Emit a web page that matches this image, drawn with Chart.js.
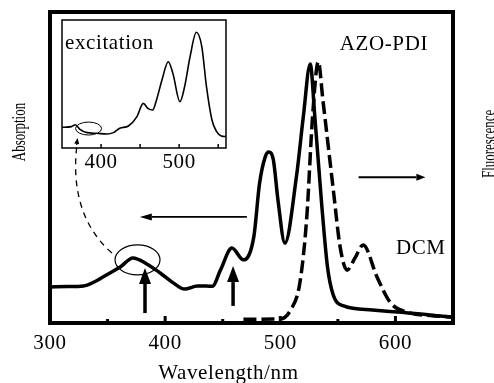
<!DOCTYPE html>
<html lang="en">
<head>
<meta charset="UTF-8">
<title>AZO-PDI absorption and fluorescence</title>
<script src="https://cdn.jsdelivr.net/npm/chart.js"></script>
<style>
  html, body { margin: 0; padding: 0; background: #fff; }
  .wrap { position: relative; width: 494px; height: 383px; }
  .wrap canvas { position: absolute; left: 0; top: 0; }
</style>
</head>
<body>
<div class="wrap">
  <canvas id="mainChart" width="494" height="383"></canvas>
  <canvas id="insetChart" width="494" height="383"></canvas>
</div>
<script>
// absorption in DCM (solid), normalised to frame height
const absWl  = [300, 315, 329, 340, 346, 361, 372, 384, 396, 407, 417, 428, 436, 441, 448, 458, 468, 477, 482, 487, 490, 494, 498, 504, 514, 520, 526, 530, 536, 541, 546, 555, 580, 602, 630, 650];
const absVal = [0.116, 0.117, 0.119, 0.135, 0.148, 0.18, 0.209, 0.19, 0.16, 0.129, 0.109, 0.119, 0.119, 0.118, 0.17, 0.241, 0.203, 0.277, 0.449, 0.535, 0.55, 0.524, 0.395, 0.257, 0.47, 0.663, 0.833, 0.663, 0.38, 0.18, 0.09, 0.055, 0.042, 0.035, 0.026, 0.018];

// fluorescence (dashed)
const flWl  = [468, 500, 509, 517, 523, 528, 533, 537, 546, 552, 558, 565, 572, 584, 596, 613, 630, 650];
const flVal = [0.012, 0.013, 0.042, 0.129, 0.34, 0.662, 0.84, 0.717, 0.43, 0.244, 0.17, 0.21, 0.251, 0.148, 0.064, 0.032, 0.024, 0.019];

// inset: excitation spectrum
const excWl  = [350, 362, 367, 373, 382, 394, 407, 416, 424, 435, 446, 454, 460, 466, 471, 478, 486, 492, 501, 507, 514, 522, 529, 535, 542, 548, 554, 560];
const excVal = [0.162, 0.167, 0.182, 0.146, 0.12, 0.115, 0.109, 0.12, 0.154, 0.172, 0.245, 0.349, 0.31, 0.297, 0.375, 0.531, 0.674, 0.583, 0.362, 0.479, 0.714, 0.904, 0.792, 0.479, 0.219, 0.128, 0.094, 0.089];

const mainTicks = [350, 400, 450, 500, 550, 600];
const mainTickLabels = [300, 400, 500, 600];
const insetTicks = [400, 450, 500, 550];
const insetTickLabels = [400, 500];

const FONT = '"Liberation Serif", "DejaVu Serif", serif';

function pts(xs, ys) {
  return xs.map((v, i) => ({x: v, y: ys[i]}));
}

function setFont(ctx) {
  ctx.font = '21px ' + FONT;
  ctx.letterSpacing = '0.6px';
}

// vertical title, read bottom to top; the source figure squeezes these along their length
function sideTitle(ctx, text, bx, cy) {
  ctx.save();
  ctx.font = '18px ' + FONT;
  ctx.letterSpacing = '0px';
  ctx.textAlign = 'center';
  ctx.textBaseline = 'alphabetic';
  ctx.translate(bx, cy);
  ctx.rotate(-Math.PI / 2);
  ctx.scale(0.72, 1);
  ctx.fillText(text, 0, 0);
  ctx.restore();
}

function arrow(ctx, x1, y1, x2, y2, lw, headLen, headHalf) {
  const ang = Math.atan2(y2 - y1, x2 - x1);
  const bx = x2 - Math.cos(ang) * headLen;
  const by = y2 - Math.sin(ang) * headLen;
  ctx.lineWidth = lw;
  ctx.beginPath();
  ctx.moveTo(x1, y1);
  ctx.lineTo(bx, by);
  ctx.stroke();
  ctx.beginPath();
  ctx.moveTo(x2, y2);
  ctx.lineTo(bx - Math.sin(ang) * headHalf, by + Math.cos(ang) * headHalf);
  ctx.lineTo(bx + Math.sin(ang) * headHalf, by - Math.cos(ang) * headHalf);
  ctx.closePath();
  ctx.fill();
}

const mainDecor = {
  id: 'mainDecor',
  afterDatasetsDraw(chart) {
    const {ctx, chartArea: a, scales: {x, y}} = chart;
    ctx.save();
    ctx.strokeStyle = '#000';
    ctx.fillStyle = '#000';

    // frame + inward ticks
    ctx.lineWidth = 4;
    ctx.strokeRect(a.left, a.top, a.right - a.left, a.bottom - a.top);
    ctx.lineWidth = 3;
    mainTicks.forEach(v => {
      const px = x.getPixelForValue(v);
      const len = v % 100 === 0 ? 7 : 4;
      ctx.beginPath();
      ctx.moveTo(px, a.bottom);
      ctx.lineTo(px, a.bottom - len);
      ctx.stroke();
    });

    // tick labels and titles
    setFont(ctx);
    ctx.textAlign = 'center';
    ctx.textBaseline = 'middle';
    mainTickLabels.forEach(v => ctx.fillText(String(v), x.getPixelForValue(v), a.bottom + 20));
    ctx.fillText('Wavelength/nm', x.getPixelForValue(455), a.bottom + 50);

    sideTitle(ctx, 'Absorption', 25, y.getPixelForValue(0.614));
    sideTitle(ctx, 'Fluorescence', 495, y.getPixelForValue(0.576));

    ctx.fillText('AZO-PDI', x.getPixelForValue(590), y.getPixelForValue(0.894));
    ctx.fillText('DCM', x.getPixelForValue(622), y.getPixelForValue(0.241));

    // ellipse around the 375 nm band
    ctx.lineWidth = 1.2;
    ctx.beginPath();
    ctx.ellipse(x.getPixelForValue(376), y.getPixelForValue(0.203), 22.5, 15, 0, 0, Math.PI * 2);
    ctx.stroke();

    // vertical excitation arrows
    arrow(ctx, x.getPixelForValue(382.5), y.getPixelForValue(0.032), x.getPixelForValue(382.5), y.getPixelForValue(0.177), 3.5, 16, 6);
    arrow(ctx, x.getPixelForValue(459), y.getPixelForValue(0.055), x.getPixelForValue(459), y.getPixelForValue(0.183), 3.5, 16, 6);

    // horizontal arrows
    arrow(ctx, x.getPixelForValue(471), y.getPixelForValue(0.341), x.getPixelForValue(378), y.getPixelForValue(0.341), 1.8, 12, 3.5);
    arrow(ctx, x.getPixelForValue(568), y.getPixelForValue(0.469), x.getPixelForValue(626), y.getPixelForValue(0.469), 2, 9, 3.5);

    // dashed connector to the inset
    const p0 = [x.getPixelForValue(353.8), y.getPixelForValue(0.225)];
    const c1 = [x.getPixelForValue(326), y.getPixelForValue(0.315)];
    const c2 = [x.getPixelForValue(319), y.getPixelForValue(0.444)];
    const p3 = [x.getPixelForValue(323.5), y.getPixelForValue(0.595)];
    ctx.lineWidth = 1.3;
    ctx.setLineDash([6, 5]);
    ctx.beginPath();
    ctx.moveTo(p0[0], p0[1]);
    ctx.bezierCurveTo(c1[0], c1[1], c2[0], c2[1], p3[0], p3[1] + 6);
    ctx.stroke();
    ctx.setLineDash([]);
    arrow(ctx, p3[0] - 0.5, p3[1] + 7, p3[0] + 0.5, p3[1], 1.3, 6, 2.5);

    ctx.restore();
  }
};

const insetDecor = {
  id: 'insetDecor',
  afterDatasetsDraw(chart) {
    const {ctx, chartArea: a, scales: {x, y}} = chart;
    ctx.save();
    ctx.strokeStyle = '#000';
    ctx.fillStyle = '#000';
    ctx.lineWidth = 1.5;
    ctx.strokeRect(a.left, a.top, a.right - a.left, a.bottom - a.top);
    insetTicks.forEach(v => {
      const px = x.getPixelForValue(v);
      ctx.beginPath();
      ctx.moveTo(px, a.bottom);
      ctx.lineTo(px, a.bottom - 4);
      ctx.stroke();
    });
    setFont(ctx);
    ctx.textAlign = 'center';
    ctx.textBaseline = 'middle';
    insetTickLabels.forEach(v => ctx.fillText(String(v), x.getPixelForValue(v), a.bottom + 14));
    ctx.textAlign = 'left';
    ctx.fillText('excitation', a.left + 3, y.getPixelForValue(0.82));

    ctx.lineWidth = 1;
    ctx.beginPath();
    ctx.ellipse(x.getPixelForValue(384), y.getPixelForValue(0.152), 13, 6.5, 0, 0, Math.PI * 2);
    ctx.stroke();
    ctx.restore();
  }
};

const lineDefaults = {
  borderColor: '#000',
  pointRadius: 0,
  fill: false,
  cubicInterpolationMode: 'monotone'
};

new Chart(document.getElementById('mainChart'), {
  type: 'line',
  data: {
    datasets: [
      Object.assign({label: 'Absorption', data: pts(absWl, absVal), borderWidth: 3.5}, lineDefaults),
      Object.assign({label: 'Fluorescence', data: pts(flWl, flVal), borderWidth: 3.5, borderDash: [13, 5]}, lineDefaults)
    ]
  },
  options: {
    responsive: false,
    animation: false,
    layout: {padding: {left: 50, top: 12, right: 41, bottom: 60}},
    plugins: {legend: {display: false}, tooltip: {enabled: false}},
    scales: {
      x: {type: 'linear', min: 300, max: 650, display: false},
      y: {min: 0, max: 1, display: false}
    }
  },
  plugins: [mainDecor]
});

new Chart(document.getElementById('insetChart'), {
  type: 'line',
  data: {
    datasets: [
      Object.assign({label: 'Excitation', data: pts(excWl, excVal), borderWidth: 1.6}, lineDefaults)
    ]
  },
  options: {
    responsive: false,
    animation: false,
    layout: {padding: {left: 62, top: 20, right: 268, bottom: 235}},
    plugins: {legend: {display: false}, tooltip: {enabled: false}},
    scales: {
      x: {type: 'linear', min: 350, max: 560, display: false},
      y: {min: 0, max: 1, display: false}
    }
  },
  plugins: [insetDecor]
});
</script>
</body>
</html>
